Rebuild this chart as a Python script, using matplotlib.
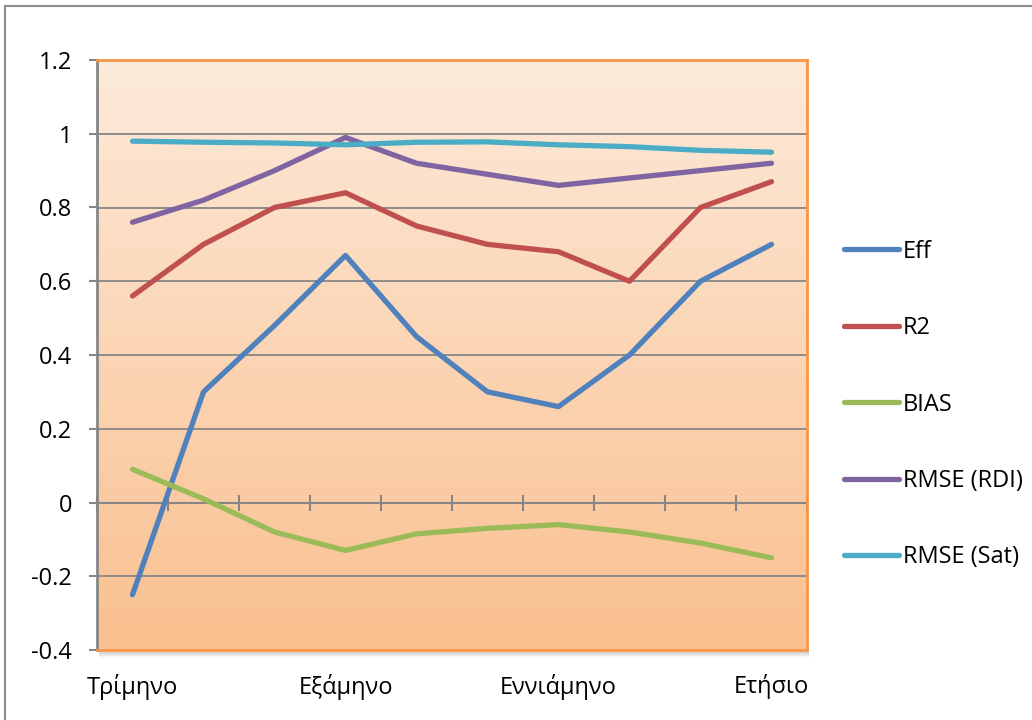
import matplotlib
matplotlib.use("Agg")
import matplotlib.pyplot as plt
import numpy as np
from matplotlib.colors import LinearSegmentedColormap
from matplotlib.lines import Line2D
from matplotlib.patches import Rectangle

plt.rcParams['font.family'] = ['Open Sans', 'DejaVu Sans']

periods = ["Τρίμηνο", "", "", "Εξάμηνο", "", "", "Εννιάμηνο", "", "", "Ετήσιο"]
eff = [-0.25, 0.30, 0.48, 0.67, 0.45, 0.30, 0.26, 0.40, 0.60, 0.70]
r2 = [0.56, 0.70, 0.80, 0.84, 0.75, 0.70, 0.68, 0.60, 0.80, 0.87]
bias = [0.09, 0.01, -0.08, -0.13, -0.085, -0.07, -0.06, -0.08, -0.11, -0.15]
rmse_rdi = [0.76, 0.82, 0.90, 0.99, 0.92, 0.89, 0.86, 0.88, 0.90, 0.92]
rmse_sat = [0.98, 0.977, 0.975, 0.97, 0.977, 0.978, 0.97, 0.965, 0.955, 0.95]

series = [
    ("Eff", eff, "#4F81BD"),
    ("R2", r2, "#C0504D"),
    ("BIAS", bias, "#9BBB59"),
    ("RMSE (RDI)", rmse_rdi, "#8064A2"),
    ("RMSE (Sat)", rmse_sat, "#4BACC6"),
]

fs = 17

fig = plt.figure(figsize=(10.32, 7.2), dpi=100)
ax = fig.add_axes([97 / 1032, 70 / 720, 710 / 1032, 590 / 720])

# soft shadow under the plot area
for k, a in enumerate([0.10, 0.06, 0.03]):
    fig.add_artist(Rectangle((99 / 1032, (66 - 2 * k) / 720), 710 / 1032, 4 / 720,
                             transform=fig.transFigure, color="black", alpha=a,
                             lw=0, zorder=0))

ymin, ymax = -0.4, 1.2
n = len(periods)
x = np.arange(n)
ax.set_xlim(-0.5, n - 0.5)
ax.set_ylim(ymin, ymax)

# peach-to-orange fill behind the plot
grad = LinearSegmentedColormap.from_list("peach", ["#FAC08F", "#FDEADA"])
ax.imshow(np.linspace(0, 1, 256).reshape(-1, 1), cmap=grad, aspect="auto",
          extent=[-0.5, n - 0.5, ymin, ymax], origin="lower", zorder=0)

for yv in np.arange(-0.2, 1.21, 0.2):
    ax.axhline(yv, color="#868686", lw=1.3, zorder=1)

for label, vals, col in series:
    ax.plot(x, vals, color=col, lw=3.8, solid_capstyle="round",
            solid_joinstyle="round", label=label, zorder=3)

# category axis crosses at zero
ax.axhline(0, color="#868686", lw=1.5, zorder=2)
sec = ax.secondary_xaxis(-ymin / (ymax - ymin))
sec.set_xticks(np.arange(-0.5, n, 1.0))
sec.tick_params(axis="x", direction="inout", length=12, width=1.5,
                color="#868686", labelbottom=False)
sec.spines["bottom"].set_visible(False)

ax.set_xticks(x[::3])
ax.set_xticklabels([periods[i] for i in x[::3]])
ax.tick_params(axis="x", length=0, pad=17, labelsize=fs)
ax.set_yticks(np.arange(-0.4, 1.21, 0.2))
ax.set_yticklabels(["-0.4", "-0.2", "0", "0.2", "0.4", "0.6", "0.8", "1", "1.2"])
ax.tick_params(axis="y", direction="out", length=6, width=1.5,
               color="#868686", pad=12, labelsize=fs)

for s in ["top", "right", "bottom"]:
    ax.spines[s].set_color("#F79646")
    ax.spines[s].set_linewidth(2)
ax.spines["left"].set_color("#868686")
ax.spines["left"].set_linewidth(2)

handles = [Line2D([], [], color=c, lw=3.8, solid_capstyle="round") for _, _, c in series]
ax.legend(handles, [s[0] for s in series], loc="center left",
          bbox_to_anchor=(1.035, 0.416), frameon=False, fontsize=fs,
          borderpad=0, handlelength=2.35, handletextpad=0.15, labelspacing=2.22)

# outer chart frame
fig.add_artist(Line2D([4.5 / 1032, 4.5 / 1032], [0, 1 - 6 / 720], color="#8C8C8C", lw=1.5))
fig.add_artist(Line2D([4.5 / 1032, 1], [1 - 6 / 720, 1 - 6 / 720], color="#8C8C8C", lw=1.5))

fig.savefig("out.png", dpi=100)
